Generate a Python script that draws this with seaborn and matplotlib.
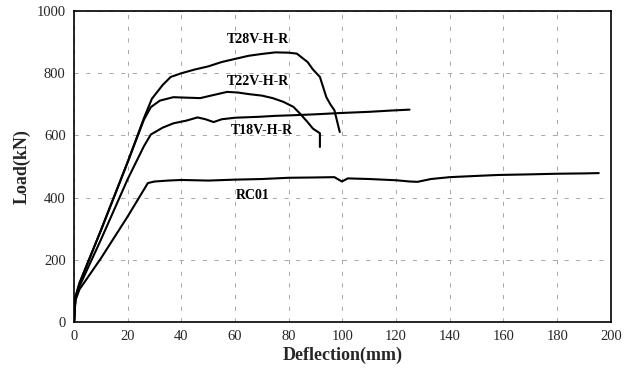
import matplotlib
matplotlib.use("Agg")
import matplotlib.pyplot as plt
import seaborn as sns
import pandas as pd

# ---- data ----
t28_x = [0, 0.5, 2, 10, 20, 26, 29, 33, 36, 40, 45, 50, 55, 60, 65, 70, 75, 80, 83, 87, 89, 91.6, 94, 95.5, 97, 99]
t28_y = [0, 80, 125, 295, 515, 655, 718, 762, 788, 800, 812, 822, 836, 846, 856, 862, 867, 866, 863, 836, 812, 788, 723, 700, 681, 611]

t22_x = [0, 0.5, 2, 10, 20, 26, 28.6, 32, 37, 40, 47, 52, 57, 61, 65, 70, 74, 78, 81.7, 84, 86.8, 89, 91.6, 91.6]
t22_y = [0, 80, 125, 295, 515, 650, 691, 712, 723, 722, 720, 730, 740, 738, 733, 728, 720, 708, 692, 672, 645, 622, 607, 563]

t18_x = [0, 0.5, 2, 10, 20, 26, 28.6, 33, 37, 42, 46, 49, 52, 55, 60, 69, 75, 81.7, 90, 99, 110, 118, 125]
t18_y = [0, 75, 115, 265, 460, 565, 603, 625, 639, 648, 658, 652, 643, 652, 657, 660, 663, 665, 668, 672, 676, 680, 683]

rc01_x = [0, 0.5, 2, 10, 20, 27.5, 30, 35, 40, 50, 60, 70, 80, 90, 97, 99.8, 102, 110, 120, 125, 128, 133, 140, 150, 158, 170, 180, 190, 195.5]
rc01_y = [0, 70, 105, 205, 340, 447, 452, 455, 457, 455, 458, 460, 464, 465, 466, 452, 462, 460, 456, 452, 451, 460, 466, 470, 473, 475, 477, 478, 479]

labels = ["T28V-H-R", "T22V-H-R", "T18V-H-R", "RC01"]
label_x = [68.6, 68.6, 70.0, 66.4]
label_y = [907, 772, 617, 408]

x_ticks = [0, 20, 40, 60, 80, 100, 120, 140, 160, 180, 200]
y_ticks = [0, 200, 400, 600, 800, 1000]

sns.set_style("white")
plt.rcParams["font.family"] = ["Liberation Serif", "DejaVu Serif"]

fig = plt.figure(figsize=(6.33, 3.79), dpi=100)
ax = fig.add_axes([0.117, 0.150, 0.848, 0.821])

series = [(t28_x, t28_y), (t22_x, t22_y), (t18_x, t18_y), (rc01_x, rc01_y)]
for xs, ys in series:
    df = pd.DataFrame({"x": xs, "y": ys})
    sns.lineplot(data=df, x="x", y="y", sort=False, estimator=None,
                 color="black", linewidth=1.5, ax=ax)

for t, lx, ly in zip(labels, label_x, label_y):
    ax.text(lx, ly, t, ha="center", va="center", fontsize=10,
            fontweight="bold", color="black")

ax.set_xlim(0, 200)
ax.set_ylim(0, 1000)
ax.set_xticks(x_ticks)
ax.set_yticks(y_ticks)
ax.tick_params(labelsize=10.5, length=0, pad=6)
ax.grid(True, color="0.6", linestyle=(0, (5, 9)), linewidth=0.6)
ax.set_axisbelow(True)
for s in ax.spines.values():
    s.set_color("black")
    s.set_linewidth(1.2)

ax.set_xlabel("Deflection(mm)", fontsize=13, fontweight="bold", labelpad=2)
ax.set_ylabel("Load(kN)", fontsize=13, fontweight="bold", labelpad=4)

fig.savefig("out.png", dpi=100)
